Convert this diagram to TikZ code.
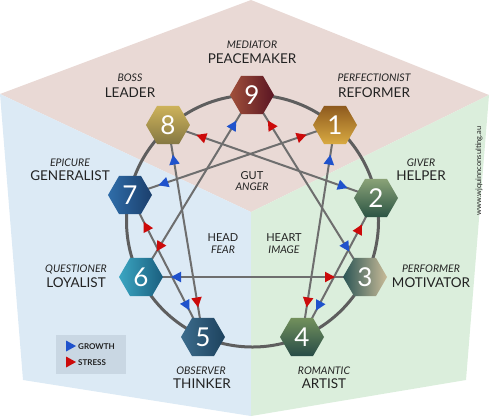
\documentclass[tikz,border=0pt]{standalone}
\usepackage{fontspec}
\setmainfont{Lato}
\usetikzlibrary{shapes.geometric,arrows.meta,decorations.markings}

\definecolor{pinkbg}{HTML}{E9D9D5}
\definecolor{bluebg}{HTML}{DCEAF5}
\definecolor{greenbg}{HTML}{DBEEDC}
\definecolor{legendbg}{HTML}{C9D7E3}
\definecolor{ringcol}{HTML}{5E5E5E}
\definecolor{linecol}{HTML}{6E6E6E}
\definecolor{growth}{HTML}{1F52CC}
\definecolor{stress}{HTML}{CC0A0A}
\definecolor{txt}{HTML}{222222}
% hexagon colours
\definecolor{c9a}{HTML}{A0503A}\definecolor{c9b}{HTML}{5A1523}
\definecolor{c8a}{HTML}{CDB25A}\definecolor{c8b}{HTML}{857843}
\definecolor{c1a}{HTML}{8E5A1E}\definecolor{c1b}{HTML}{D9AA42}
\definecolor{c7a}{HTML}{2F6DA9}\definecolor{c7b}{HTML}{1B3F6C}
\definecolor{c2a}{HTML}{8AA277}\definecolor{c2b}{HTML}{2B5444}
\definecolor{c6a}{HTML}{3BA6C2}\definecolor{c6b}{HTML}{1A5E7E}
\definecolor{c3a}{HTML}{2C5656}\definecolor{c3b}{HTML}{C9BB98}
\definecolor{c5a}{HTML}{3C6C8C}\definecolor{c5b}{HTML}{1D425E}
\definecolor{c4a}{HTML}{72905C}\definecolor{c4b}{HTML}{284C47}

\pgfdeclarelayer{back}
\pgfdeclarelayer{mid}
\pgfsetlayers{back,mid,main}

\tikzset{
  hex/.style={regular polygon, regular polygon sides=6, minimum size=44pt,
    inner sep=0pt, text=white, font=\fontsize{26}{26}\selectfont},
  nm/.style={font=\fontsize{13.5}{14}\selectfont, text=txt, inner sep=0pt, anchor=base},
  rl/.style={font=\itshape\fontsize{10.5}{11}\selectfont, text=txt, inner sep=0pt, anchor=base},
  ctr/.style={font=\fontsize{11}{12}\selectfont, text=txt, inner sep=0pt, anchor=base},
  ctrsub/.style={font=\itshape\fontsize{10.5}{11}\selectfont, text=txt, inner sep=0pt, anchor=base},
  lg/.style={font=\bfseries\fontsize{8}{9}\selectfont, text=txt, inner sep=0pt, anchor=base west},
  linkline/.style={draw=linecol, line width=2pt},
  ring/.style={draw=ringcol, line width=3pt},
}

\newcommand{\enlink}[4]{%
  \draw[linkline, postaction={decorate, decoration={markings,
    mark=at position 30pt with {\arrowreversed{Triangle[length=10pt,width=10pt,color=#3]}},
    mark=at position -30pt with {\arrow{Triangle[length=10pt,width=10pt,color=#4]}}}}]
    (#1.center) -- (#2.center);}

\begin{document}
\begin{tikzpicture}[x=1pt,y=-1pt]
\useasboundingbox (0,0) rectangle (502,416);

\begin{pgfonlayer}{back}
  \fill[pinkbg] (0,94) -- (251,0) -- (489,95) -- (251,212) -- cycle;
  \fill[bluebg] (0,94) -- (251,212) -- (251,416) -- (23,380) -- cycle;
  \fill[greenbg] (251,212) -- (489,95) -- (466,380) -- (251,416) -- cycle;
  \draw[ring] (252.5,221) circle[radius=126];
\end{pgfonlayer}

% hexagon nodes
\node[hex, left color=c9a, right color=c9b] (n9) at (252,95) {9};
\node[hex, top color=c8a, bottom color=c8b] (n8) at (168,125) {8};
\node[hex, top color=c1a, bottom color=c1b] (n1) at (335,125) {1};
\node[hex, left color=c7a, right color=c7b] (n7) at (130,195) {7};
\node[hex, top color=c2a, bottom color=c2b] (n2) at (376,198) {2};
\node[hex, left color=c6a, right color=c6b] (n6) at (141,277) {6};
\node[hex, left color=c3a, right color=c3b] (n3) at (365,277) {3};
\node[hex, left color=c5a, right color=c5b] (n5) at (203,337) {5};
\node[hex, top color=c4a, bottom color=c4b] (n4) at (302,337) {4};

% connectors
\begin{pgfonlayer}{mid}
  \enlink{n1}{n4}{growth}{stress}
  \enlink{n4}{n2}{growth}{stress}
  \enlink{n2}{n8}{growth}{stress}
  \enlink{n8}{n5}{growth}{stress}
  \enlink{n5}{n7}{growth}{stress}
  \enlink{n7}{n1}{growth}{stress}
  \enlink{n9}{n3}{stress}{growth}
  \enlink{n3}{n6}{stress}{growth}
  \enlink{n6}{n9}{stress}{growth}
\end{pgfonlayer}

% labels
\node[rl] (l9a) at (252,48.8) {MEDIATOR};
\node[nm] (l9b) at (252,63) {PEACEMAKER};
\node[rl] (l8a) at (130,81.8) {BOSS};
\node[nm] (l8b) at (130,97) {LEADER};
\node[rl] (l1a) at (374,81.8) {PERFECTIONIST};
\node[nm] (l1b) at (374,97) {REFORMER};
\node[rl] (l7a) at (70,166.8) {EPICURE};
\node[nm] (l7b) at (70,180) {GENERALIST};
\node[rl] (l2a) at (421,166.8) {GIVER};
\node[nm] (l2b) at (421,180) {HELPER};
\node[rl] (l6a) at (76,272.8) {QUESTIONER};
\node[nm] (l6b) at (76,287) {LOYALIST};
\node[rl] (l3a) at (431,272.8) {PERFORMER};
\node[nm] (l3b) at (431,287) {MOTIVATOR};
\node[rl] (l5a) at (201,374.8) {OBSERVER};
\node[nm] (l5b) at (202,388) {THINKER};
\node[rl] (l4a) at (324,374.8) {ROMANTIC};
\node[nm] (l4b) at (324,388) {ARTIST};

\node[ctr] (gut) at (252,179) {GUT};
\node[ctrsub] (anger) at (252,190.8) {ANGER};
\node[ctr] (head) at (223,241) {HEAD};
\node[ctrsub] (fear) at (223,253.8) {FEAR};
\node[ctr] (heart) at (284,241) {HEART};
\node[ctrsub] (image) at (284,253.8) {IMAGE};

% legend
\node[fill=legendbg, minimum width=70pt, minimum height=39pt, inner sep=0pt] (legend) at (91,354.5) {};
\fill[growth] (66,340.5) -- (76,346) -- (66,351.5) -- cycle;
\fill[stress] (66,356.5) -- (76,362) -- (66,367.5) -- cycle;
\node[lg] (lgg) at (78,349) {GROWTH};
\node[lg] (lgs) at (78,365) {STRESS};

% web address
\node[rotate=90, font=\fontsize{7.5}{8}\selectfont, text=txt, inner sep=0pt] (web) at (479,171) {www.wjquinnconsulting.au};
\end{tikzpicture}
\end{document}
